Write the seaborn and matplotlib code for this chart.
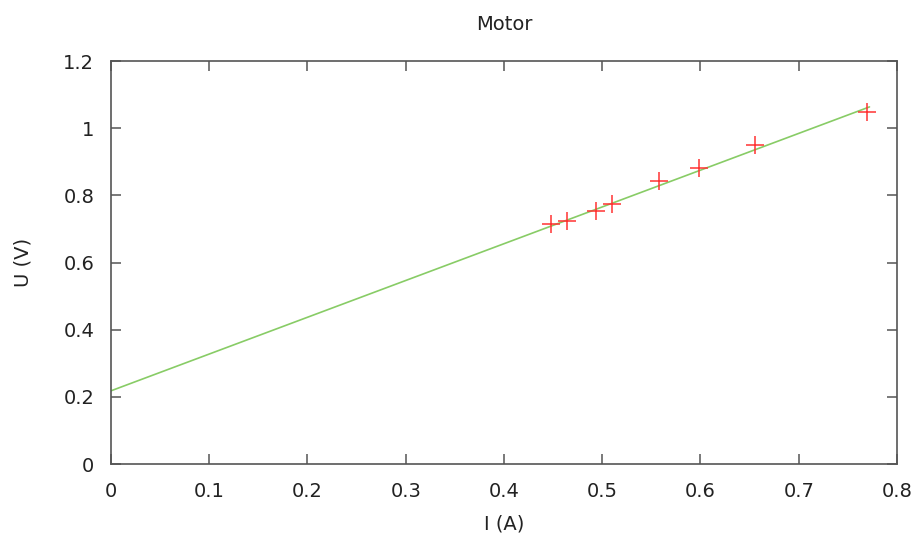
import seaborn as sns
import pandas as pd
import numpy as np
import matplotlib
matplotlib.use('Agg')
import matplotlib.pyplot as plt

# measured points
current = [0.448, 0.464, 0.494, 0.510, 0.558, 0.598, 0.655, 0.769]
voltage = [0.715, 0.724, 0.753, 0.774, 0.843, 0.881, 0.950, 1.048]
# fitted line U = a*I + b
fit_slope = 1.095
fit_intercept = 0.218
fit_x = [0.0, 0.772]

x_ticks = [0, 0.1, 0.2, 0.3, 0.4, 0.5, 0.6, 0.7, 0.8]
y_ticks = [0, 0.2, 0.4, 0.6, 0.8, 1, 1.2]

sns.set_style("white")
plt.rcParams['font.family'] = ['DejaVu Sans']

df = pd.DataFrame({"I": current, "U": voltage})
fit = pd.DataFrame({"I": fit_x, "U": [fit_slope * v + fit_intercept for v in fit_x]})

fig = plt.figure(figsize=(9.15, 5.39), dpi=100)
ax = fig.add_axes([0.1213, 0.1391, 0.8590, 0.7477])

sns.lineplot(data=fit, x="I", y="U", ax=ax, color="#88cc66", lw=1.2)
sns.scatterplot(data=df, x="I", y="U", ax=ax, marker="+", s=180,
                color="#ff3333", linewidth=1.1, zorder=3)

ax.set_xlim(0, 0.8)
ax.set_ylim(0, 1.2)
ax.set_xticks(x_ticks)
ax.set_yticks(y_ticks)
ax.set_xticklabels([f"{v:g}" for v in x_ticks])
ax.set_yticklabels([f"{v:g}" for v in y_ticks])

for sp in ax.spines.values():
    sp.set_color("#555555")
    sp.set_linewidth(1.2)
ax.tick_params(axis='both', direction='in', length=7, width=1.1, color="#555555",
               labelsize=14, labelcolor="#222222",
               top=True, right=True, bottom=True, left=True)
ax.tick_params(axis='x', pad=13)
ax.tick_params(axis='y', pad=12)

ax.set_xlabel("I (A)", fontsize=14, labelpad=10, color="#222222")
ax.set_ylabel("U (V)", fontsize=14, labelpad=22, color="#222222")
ax.set_title("Motor", fontsize=14, pad=22, color="#222222")

fig.savefig("out.png", dpi=100)
